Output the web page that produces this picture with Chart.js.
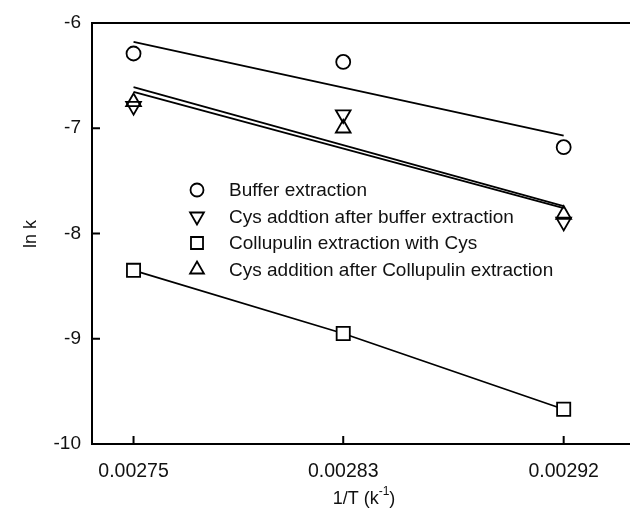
<!DOCTYPE html>
<html>
<head>
<meta charset="utf-8">
<script src="https://cdn.jsdelivr.net/npm/chart.js@4.4.1/dist/chart.umd.min.js"></script>
<style>
  html, body { margin: 0; padding: 0; background: #fff; overflow: hidden; }
  .graph-container { position: relative; width: 630px; height: 510px; }
</style>
</head>
<body>
<div class="graph-container">
  <canvas id="chart"></canvas>
</div>
<script>
// 1/T values (363, 353, 343 K) and the labels shown under them
const invT = [0.002755, 0.002833, 0.002915];
const xTickLabels = ['0.00275', '0.00283', '0.00292'];

// ln k
const bufferLnk = [-6.29, -6.37, -7.18];
const cysAfterBufferLnk = [-6.79, -6.87, -7.89];
const collupulinLnk = [-8.35, -8.95, -9.67];
const cysAfterCollupulinLnk = [-6.75, -7.00, -7.82];

// fitted lines, end points
const fitX = [0.002755, 0.002915];
const bufferFit = [-6.18, -7.07];
const cysAfterBufferFit = [-6.655, -7.76];
const cysAfterCollupulinFit = [-6.61, -7.74];

const labels = [
  'Buffer extraction',
  'Cys addtion after buffer extraction',
  'Collupulin extraction with Cys',
  'Cys addition after Collupulin extraction'
];

const FONT = "'Liberation Sans', Arial, sans-serif";

function pts(xs, ys) {
  return xs.map((x, i) => ({ x: x, y: ys[i] }));
}

function markerSet(label, ys, style, rot, radius, fill, line) {
  return {
    label: label,
    data: pts(invT, ys),
    pointStyle: style,
    rotation: rot,
    pointRadius: radius,
    pointBorderWidth: 1.8,
    pointBorderColor: '#000',
    pointBackgroundColor: fill,
    borderColor: '#000',
    borderWidth: 1.8,
    showLine: line,
    legendItem: true,
  };
}

function fitSet(ys) {
  return {
    data: pts(fitX, ys),
    showLine: true,
    pointRadius: 0,
    borderColor: '#000',
    borderWidth: 1.8,
    legendItem: false,
  };
}

// inward ticks, top frame line, legend in the plot and axis titles
const extras = {
  id: 'extras',
  afterDraw(chart) {
    const ctx = chart.ctx;
    const a = chart.chartArea;
    const xs = chart.scales.x, ys = chart.scales.y;
    ctx.save();
    ctx.strokeStyle = '#000';
    ctx.lineWidth = 2;
    ctx.beginPath();
    ctx.moveTo(a.left - 1, a.top);
    ctx.lineTo(a.right, a.top);
    xs.ticks.forEach(t => {
      const px = xs.getPixelForValue(t.value);
      ctx.moveTo(px, a.bottom);
      ctx.lineTo(px, a.bottom - 8);
    });
    ys.ticks.forEach(t => {
      const py = ys.getPixelForValue(t.value);
      ctx.moveTo(a.left, py);
      ctx.lineTo(a.left + 8, py);
    });
    ctx.stroke();

    // legend
    ctx.font = '19px ' + FONT;
    ctx.fillStyle = '#111';
    ctx.textBaseline = 'middle';
    let row = 0;
    chart.data.datasets.forEach(ds => {
      if (!ds.legendItem) return;
      const y = 190 + row * 26.5;
      ctx.fillStyle = '#fff';
      ctx.strokeStyle = '#000';
      ctx.lineWidth = 1.8;
      Chart.helpers.drawPoint(ctx, {
        pointStyle: ds.pointStyle,
        rotation: ds.rotation,
        radius: ds.pointStyle === 'rect' ? 8.5 : (ds.pointStyle === 'triangle' ? 8 : 6.5),
        borderWidth: 1.8
      }, 197, y);
      ctx.fillStyle = '#111';
      ctx.fillText(ds.label, 229, y + 1);
      row++;
    });

    // axis titles
    ctx.font = '18px ' + FONT;
    ctx.textAlign = 'center';
    ctx.save();
    ctx.translate(31, 234);
    ctx.rotate(-Math.PI / 2);
    ctx.fillText('ln k', 0, 0);
    ctx.restore();

    const main = '1/T (k';
    const sup = '-1';
    const tail = ')';
    ctx.textAlign = 'left';
    ctx.font = '18px ' + FONT;
    const w1 = ctx.measureText(main).width;
    const w3 = ctx.measureText(tail).width;
    ctx.font = '12px ' + FONT;
    const w2 = ctx.measureText(sup).width;
    let x0 = 364 - (w1 + w2 + w3) / 2;
    const yb = 499;
    ctx.font = '18px ' + FONT;
    ctx.fillText(main, x0, yb);
    ctx.font = '12px ' + FONT;
    ctx.fillText(sup, x0 + w1, yb - 7);
    ctx.font = '18px ' + FONT;
    ctx.fillText(tail, x0 + w1 + w2, yb);
    ctx.restore();
  }
};

new Chart(document.getElementById('chart'), {
  type: 'scatter',
  data: {
    datasets: [
      markerSet(labels[0], bufferLnk, 'circle', 0, 7, '#fff', false),
      markerSet(labels[1], cysAfterBufferLnk, 'triangle', 180, 8.5, 'transparent', false),
      markerSet(labels[2], collupulinLnk, 'rect', 0, 9.3, '#fff', true),
      markerSet(labels[3], cysAfterCollupulinLnk, 'triangle', 0, 8.5, 'transparent', false),
      fitSet(bufferFit),
      fitSet(cysAfterBufferFit),
      fitSet(cysAfterCollupulinFit),
    ]
  },
  options: {
    responsive: true,
    maintainAspectRatio: false,
    animation: false,
    layout: { autoPadding: false, padding: { top: 23, right: 0, left: 0, bottom: 0 } },
    plugins: {
      legend: { display: false },
      tooltip: { enabled: false },
    },
    scales: {
      x: {
        type: 'linear',
        min: 0.00273955,
        max: 0.00293967,
        grid: { display: false },
        border: { display: true, color: '#000', width: 2 },
        afterBuildTicks: (scale) => {
          scale.ticks = invT.map(v => ({ value: v }));
        },
        afterFit: (scale) => {
          scale.height = 66;
          scale.paddingLeft = 0;
          scale.paddingRight = 0;
        },
        ticks: {
          color: '#111',
          padding: 8,
          maxRotation: 0,
          font: { family: FONT, size: 19.5 },
          callback: (value, index) => xTickLabels[index],
        },
      },
      y: {
        min: -10,
        max: -6,
        grid: { display: false },
        border: { display: true, color: '#000', width: 2 },
        afterFit: (scale) => {
          scale.width = 92;
          scale.paddingTop = 0;
          scale.paddingBottom = 0;
        },
        ticks: {
          stepSize: 1,
          color: '#111',
          padding: 3,
          font: { family: FONT, size: 19 },
        },
      }
    }
  },
  plugins: [extras]
});
</script>
</body>
</html>
